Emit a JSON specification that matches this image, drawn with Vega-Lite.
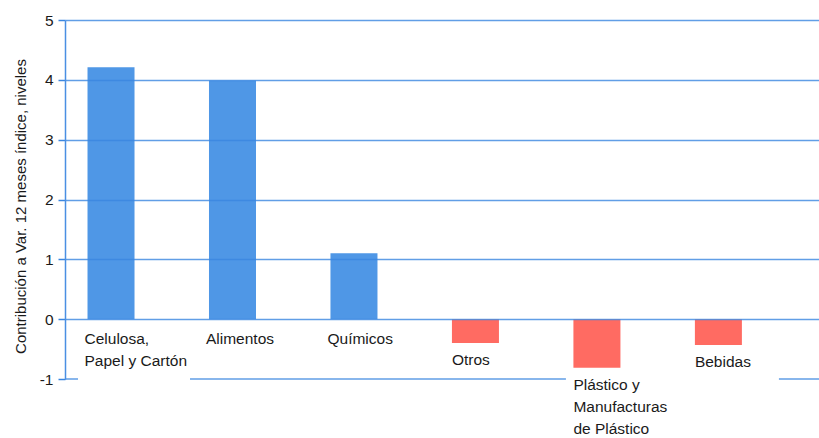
{
  "$schema": "https://vega.github.io/schema/vega-lite/v6.json",
  "width": 754,
  "height": 359,
  "autosize": {"type": "none"},
  "padding": {"left": 65, "top": 20, "right": 0, "bottom": 59},
  "background": "white",
  "config": {
    "view": {"stroke": null},
    "font": "Liberation Sans",
    "text": {"font": "Liberation Sans", "fontSize": 15.5, "lineBreak": "\n", "lineHeight": 22, "align": "left", "baseline": "alphabetic", "color": "#1a1a1a"}
  },
  "data": {
    "values": [
      {"cat": "Celulosa,\nPapel y Cartón", "value": 4.21},
      {"cat": "Alimentos", "value": 3.99},
      {"cat": "Químicos", "value": 1.1},
      {"cat": "Otros", "value": -0.4},
      {"cat": "Plástico y\nManufacturas\nde Plástico", "value": -0.81},
      {"cat": "Bebidas", "value": -0.43}
    ]
  },
  "layer": [
    {
      "mark": {"type": "bar"},
      "encoding": {
        "x": {
          "field": "cat", "type": "nominal", "sort": null,
          "scale": {"paddingInner": 0.613, "paddingOuter": 0.41, "align": 0.226},
          "axis": null
        },
        "y": {
          "field": "value", "type": "quantitative",
          "scale": {"domain": [-1, 5], "nice": false, "zero": false},
          "axis": {
            "values": [-1, 0, 1, 2, 3, 4, 5],
            "labelExpr": "toString(datum.value)",
            "zindex": 1,
            "grid": true,
            "gridColor": {"condition": {"test": "datum.value === -1", "value": "transparent"}, "value": "#3a86e0"},
            "gridOpacity": 0.8,
            "gridWidth": 1.6,
            "domainColor": "#4a8fe3",
            "domainWidth": 1.5,
            "tickColor": "#3a86e0",
            "tickSize": 7,
            "tickWidth": 1.5,
            "labelFont": "Liberation Sans",
            "labelFontSize": 15.5,
            "labelColor": "#1a1a1a",
            "labelPadding": 5,
            "title": "Contribución a Var. 12 meses índice, niveles",
            "titleFont": "Liberation Sans",
            "titleFontSize": 15,
            "titleFontWeight": "normal",
            "titleColor": "#1a1a1a",
            "titlePadding": 11,
            "titleY": 186
          }
        },
        "color": {"condition": {"test": "datum.value < 0", "value": "#ff6b62"}, "value": "#4f97e6"}
      }
    },
    {
      "data": {"values": [{}]},
      "mark": {"type": "rule", "color": "#3a86e0", "opacity": 0.8, "strokeWidth": 1.6},
      "encoding": {"y": {"datum": -1}}
    },
    {
      "transform": [{"filter": {"field": "cat", "equal": "Celulosa,\nPapel y Cartón"}}],
      "mark": {"type": "bar", "color": "white", "width": 112, "xOffset": 23},
      "encoding": {
        "x": {"field": "cat", "type": "nominal", "sort": null},
        "y": {"datum": -0.95},
        "y2": {"datum": -1.05}
      }
    },
    {
      "transform": [{"filter": {"field": "cat", "equal": "Plástico y\nManufacturas\nde Plástico"}}],
      "mark": {"type": "bar", "color": "white", "width": 213, "xOffset": 75.5},
      "encoding": {
        "x": {"field": "cat", "type": "nominal", "sort": null},
        "y": {"datum": -0.95},
        "y2": {"datum": -1.05}
      }
    },
    {
      "transform": [{"filter": "datum.value >= 0"}],
      "mark": {"type": "text", "dy": 25, "dx": -3},
      "encoding": {
        "x": {"field": "cat", "type": "nominal", "sort": null, "bandPosition": 0},
        "y": {"datum": 0},
        "text": {"field": "cat"}
      }
    },
    {
      "transform": [{"filter": "datum.value < 0"}],
      "mark": {"type": "text", "dy": 22, "dx": 0},
      "encoding": {
        "x": {"field": "cat", "type": "nominal", "sort": null, "bandPosition": 0},
        "y": {"field": "value", "type": "quantitative"},
        "text": {"field": "cat"}
      }
    }
  ]
}
